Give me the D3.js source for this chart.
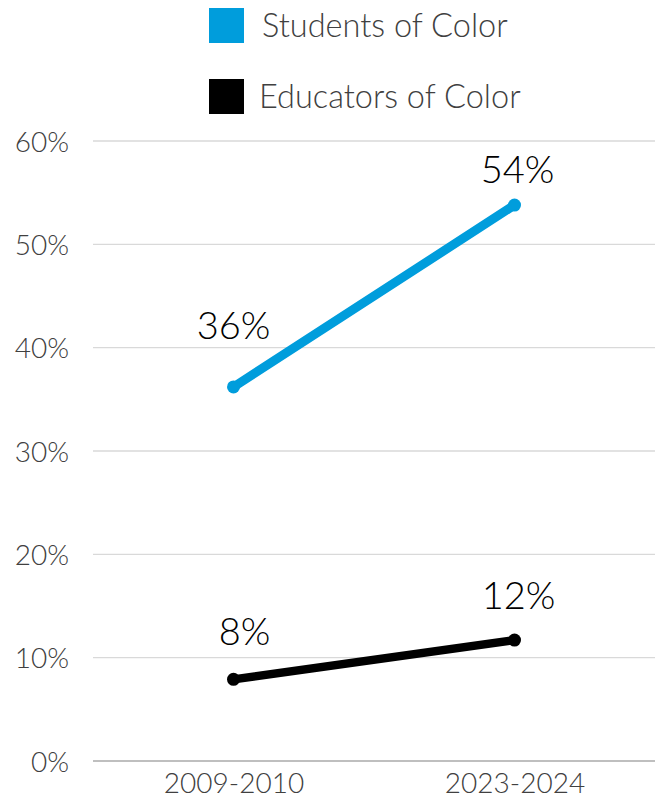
<!DOCTYPE html>
<html lang="en">
<head>
  <meta charset="utf-8">
  <title>Students and Educators of Color</title>
  <script src="https://d3js.org/d3.v7.min.js"></script>
  <style>
    body { margin: 0; background: #fff; }
    svg text { font-family: Lato, "DejaVu Sans", sans-serif; font-weight: 300; }
    .grid line { stroke: #d9d9d9; stroke-width: 1.3; }
    .tick-label { fill: #404040; }
  </style>
</head>
<body>
  <div class="chart"></div>
  <script>
    // data
    var years = ["2009-2010", "2023-2024"];
    var studentsOfColor = [36.2, 53.8];
    var educatorsOfColor = [7.9, 11.7];
    var studentLabels = ["36%", "54%"];
    var educatorLabels = ["8%", "12%"];
    var yTicks = [0, 10, 20, 30, 40, 50, 60];

    var series = [
      { name: "Students of Color", values: studentsOfColor, labels: studentLabels, color: "#009ddc", width: 9 },
      { name: "Educators of Color", values: educatorsOfColor, labels: educatorLabels, color: "#000000", width: 8.5 }
    ];

    var W = 663, H = 801;
    var margin = { top: 141, right: 8, bottom: 40, left: 93 };

    var svg = d3.select(".chart").append("svg")
        .attr("width", W)
        .attr("height", H);

    var xScale = d3.scalePoint()
        .domain(years)
        .range([margin.left, W - margin.right])
        .padding(0.5);

    var yScale = d3.scaleLinear()
        .domain([0, 60])
        .range([H - margin.bottom, margin.top]);

    // gridlines
    var grid = svg.append("g").attr("class", "grid");
    grid.selectAll("line")
        .data(yTicks)
      .enter().append("line")
        .attr("x1", margin.left)
        .attr("x2", W - margin.right)
        .attr("y1", function(d) { return yScale(d); })
        .attr("y2", function(d) { return yScale(d); })
        .style("stroke", function(d) { return d === 0 ? "#bfbfbf" : null; })
        .style("stroke-width", function(d) { return d === 0 ? 2 : null; });

    // y axis labels
    var yAxis = svg.append("g")
        .attr("transform", "translate(" + (margin.left - 24) + ",0)")
        .call(d3.axisLeft(yScale).tickValues(yTicks).tickSize(0).tickFormat(function(d) { return d + "%"; }));
    yAxis.select(".domain").remove();
    yAxis.selectAll("text")
        .attr("class", "tick-label")
        .attr("x", 0)
        .attr("dy", "0.36em")
        .style("font-size", "28px");

    // x axis labels
    var xAxis = svg.append("g")
        .attr("transform", "translate(0," + (H - margin.bottom) + ")")
        .call(d3.axisBottom(xScale).tickSize(0));
    xAxis.select(".domain").remove();
    xAxis.selectAll("text")
        .attr("class", "tick-label")
        .attr("y", 12)
        .attr("dy", "0.71em")
        .style("font-size", "28px");

    var line = d3.line()
        .x(function(d, i) { return xScale(years[i]); })
        .y(function(d) { return yScale(d); });

    // label nudges (dx, dy from the point)
    var nudges = [
      [[0, -48], [3, -22]],
      [[11, -34], [4, -31]]
    ];

    series.forEach(function(s, k) {
      var g = svg.append("g").attr("class", "series-" + k);

      g.append("path")
          .datum(s.values)
          .attr("fill", "none")
          .attr("stroke", s.color)
          .attr("stroke-width", s.width)
          .attr("stroke-linecap", "round")
          .attr("d", line);

      g.selectAll("circle")
          .data(s.values)
        .enter().append("circle")
          .attr("cx", function(d, i) { return xScale(years[i]); })
          .attr("cy", function(d) { return yScale(d); })
          .attr("r", 6.5)
          .attr("fill", s.color);

      g.selectAll("text")
          .data(s.values)
        .enter().append("text")
          .attr("x", function(d, i) { return xScale(years[i]) + nudges[k][i][0]; })
          .attr("y", function(d, i) { return yScale(d) + nudges[k][i][1]; })
          .attr("text-anchor", "middle")
          .style("font-size", "38px")
          .style("fill", "#000")
          .text(function(d, i) { return s.labels[i]; });
    });

    // legend
    var legend = svg.append("g").selectAll("g")
        .data(series)
      .enter().append("g")
        .attr("transform", function(d, i) { return "translate(209," + (8 + i * 71) + ")"; });
    legend.append("rect")
        .attr("width", 35)
        .attr("height", 35)
        .attr("fill", function(d) { return d.color; });
    legend.append("text")
        .attr("x", function(d, i) { return i === 0 ? 53 : 50; })
        .attr("y", 29)
        .style("font-size", "32.5px")
        .style("fill", "#404040")
        .text(function(d) { return d.name; });
  </script>
</body>
</html>
